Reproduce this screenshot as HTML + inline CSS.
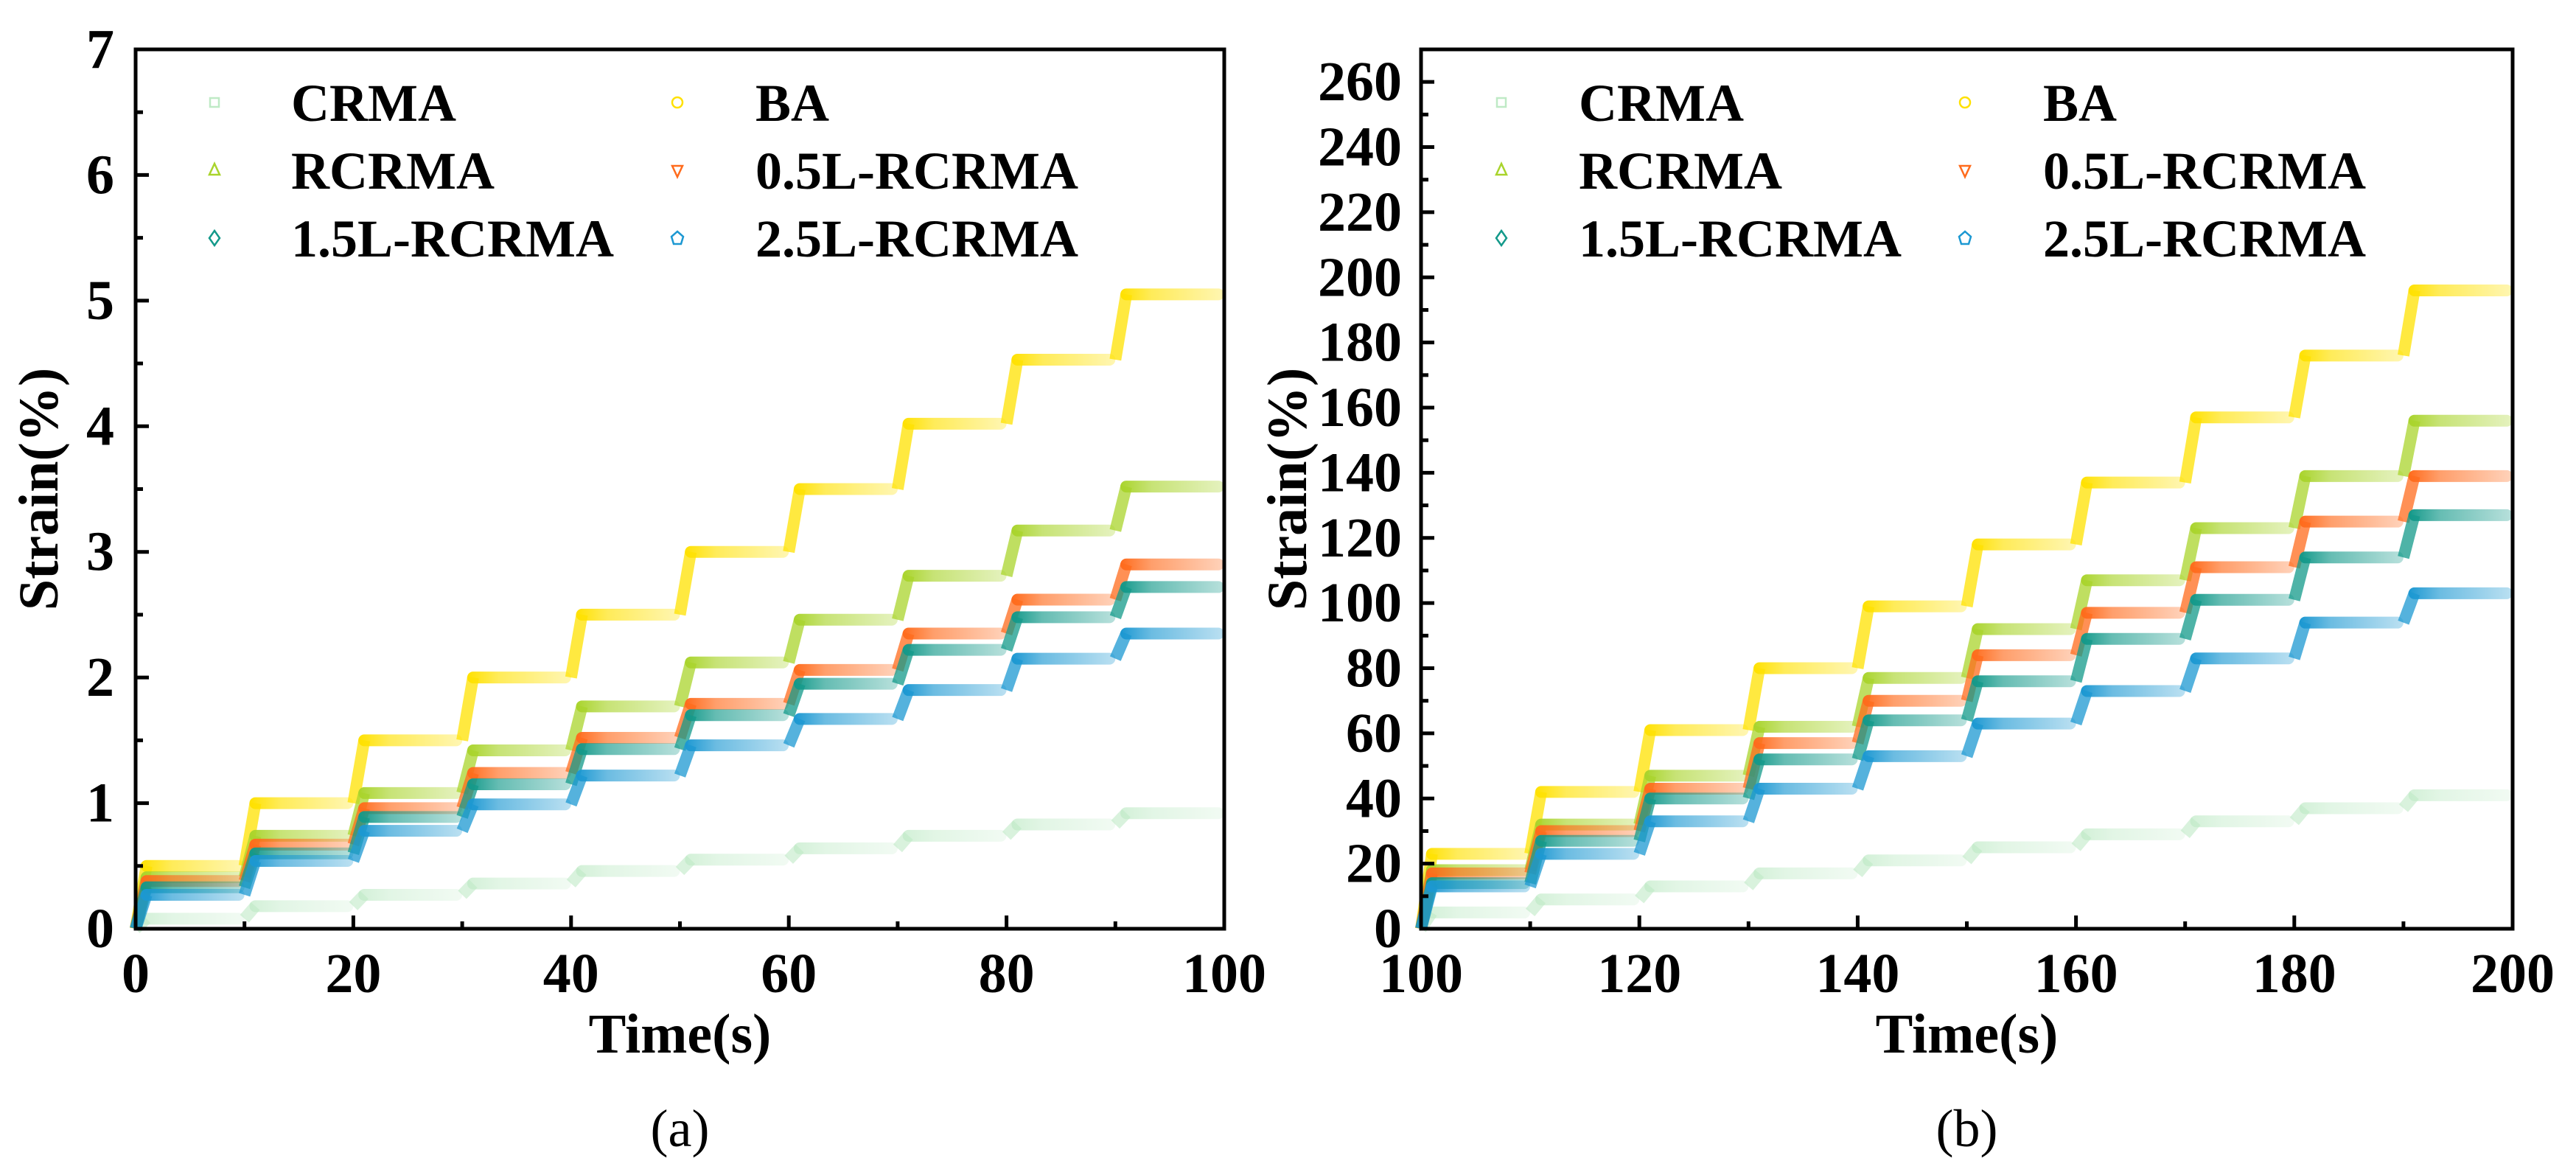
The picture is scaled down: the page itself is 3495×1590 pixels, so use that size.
<!DOCTYPE html>
<html><head><meta charset="utf-8"><style>
html,body{margin:0;padding:0;background:#fff}
svg{display:block}
text{font-family:"Liberation Serif",serif}
</style></head><body>
<svg id="chart" width="3495" height="1590" viewBox="0 0 3495 1590" xmlns="http://www.w3.org/2000/svg">
<defs></defs>
</svg>
<script>
// ---- data ----
const seriesNames = ["CRMA","BA","RCRMA","0.5L-RCRMA","1.5L-RCRMA","2.5L-RCRMA"];
const seriesColors = ["#bfeac6","#ffe100","#a9d42c","#ff6b1c","#13998a","#1c98d2"];
const stepStartsA = [0,10,20,30,40,50,60,70,80,90];
const stepStartsB = [100,110,120,130,140,150,160,170,180,190];
// panel (a) values (%)
const a_CRMA  = [0.08,0.18,0.27,0.36,0.46,0.55,0.64,0.74,0.83,0.92];
const a_BA    = [0.50,1.00,1.50,2.00,2.50,3.00,3.50,4.02,4.53,5.05];
const a_RCRMA = [0.41,0.74,1.08,1.42,1.77,2.12,2.46,2.81,3.17,3.52];
const a_L05   = [0.38,0.67,0.96,1.24,1.52,1.79,2.06,2.35,2.62,2.90];
const a_L15   = [0.33,0.60,0.89,1.15,1.43,1.70,1.95,2.22,2.48,2.72];
const a_L25   = [0.27,0.54,0.78,0.99,1.22,1.46,1.67,1.90,2.15,2.35];
// panel (b) values (%)
const b_CRMA  = [5,9,13,17,21,25,29,33,37,41];
const b_BA    = [23,42,61,80,99,118,137,157,176,196];
const b_RCRMA = [18,32,47,62,77,92,107,123,139,156];
const b_L05   = [17,30,43,57,70,84,97,111,125,139];
const b_L15   = [14,27,40,52,64,76,89,101,114,127];
const b_L25   = [13,23,33,43,53,63,73,83,94,103];
const yTicksA = [0,1,2,3,4,5,6,7];
const yTicksB = [0,20,40,60,80,100,120,140,160,180,200,220,240,260];
const xTicksA = [0,20,40,60,80,100];
const xTicksB = [100,120,140,160,180,200];

const NS="http://www.w3.org/2000/svg";
const svg=document.getElementById('chart');
const defs=svg.querySelector('defs');
function mk(tag,attrs,parent){const e=document.createElementNS(NS,tag);for(const k in attrs)e.setAttribute(k,attrs[k]);(parent||svg).appendChild(e);return e;}

seriesColors.forEach((c,i)=>{
  const g=mk('linearGradient',{id:'grad'+i,x1:'0',y1:'0',x2:'1',y2:'0'},defs);
  mk('stop',{offset:'0','stop-color':c,'stop-opacity':'1'},g);
  mk('stop',{offset:'0.3','stop-color':c,'stop-opacity':'0.65'},g);
  mk('stop',{offset:'1','stop-color':c,'stop-opacity':'0.3'},g);
});

function panel(cfg){
  const {L,R,T,B,xmin,xmax,ymin,ymax,xticks,yticks,yMinor,xMinor,data,starts,tag,legendX,label,ylabX,tickLabelR}=cfg;
  const sx=v=>L+(v-xmin)/(xmax-xmin)*(R-L);
  const sy=v=>B-(v-ymin)/(ymax-ymin)*(B-T);
  const g=mk('g',{});
  
  
  const plot=mk('g',{},g);
  
  
  data.forEach((vals,si)=>{
    const sg=mk('g',{},plot);
    
    
    const c=seriesColors[si];
    const bh=16;
    let prev=ymin;
    vals.forEach((v,k)=>{
      const t0=starts[k];
      const ramp=mk('line',{x1:sx(t0),y1:sy(prev),x2:sx(t0+1),y2:sy(v),stroke:c,'stroke-width':bh,'stroke-opacity':si===0?0.6:0.75},sg);
      
      
      const r=mk('rect',{x:sx(t0+1)-bh/2,y:sy(v)-bh/2,width:sx(t0+10)-sx(t0+1)+bh/2,height:bh,rx:bh/2,fill:'url(#grad'+si+')',opacity:si===0?0.7:1},sg);
      
      
      prev=v;
    });
  });
  const ax=mk('g',{stroke:'#000','stroke-width':5,fill:'none'},g);
  
  
  mk('rect',{x:L,y:T,width:R-L,height:B-T},ax);
  yticks.forEach(v=>{mk('line',{x1:L,y1:sy(v),x2:L+18,y2:sy(v)},ax);});
  yMinor.forEach(v=>{mk('line',{x1:L,y1:sy(v),x2:L+10,y2:sy(v)},ax);});
  xticks.forEach(v=>{mk('line',{x1:sx(v),y1:B,x2:sx(v),y2:B-18},ax);});
  xMinor.forEach(v=>{mk('line',{x1:sx(v),y1:B,x2:sx(v),y2:B-10},ax);});
  yticks.forEach(v=>{
    const t=mk('text',{x:tickLabelR,y:sy(v)+25,'text-anchor':'end','font-size':76,'font-weight':'bold'},g);
    t.textContent=v;
    
    
  });
  xticks.forEach(v=>{
    const t=mk('text',{x:sx(v),y:1346,'text-anchor':'middle','font-size':76,'font-weight':'bold'},g);
    t.textContent=v;
    
    
  });
  const xt=mk('text',{x:(L+R)/2,y:1428,'text-anchor':'middle','font-size':76,'font-weight':'bold'},g);
  xt.textContent='Time(s)';
  
  
  const yt=mk('text',{x:0,y:0,'text-anchor':'middle','font-size':76,'font-weight':'bold',transform:`translate(${ylabX},${(T+B)/2}) rotate(-90)`},g);
  yt.textContent='Strain(%)';
  
  
  const cap=mk('text',{x:(L+R)/2,y:1555,'text-anchor':'middle','font-size':72},g);
  cap.textContent=label;
  
  
  // legend
  const lg=mk('g',{},g);
  
  
  const order=[[0,0,0],[1,1,0],[2,0,1],[3,1,1],[4,0,2],[5,1,2]];
  const shapes=['sq','circ','tri','dtri','diam','pent'];
  order.forEach(([si,col,row])=>{
    const mx=legendX[col][0], tx=legendX[col][1], y=139+row*92;
    const e=mk('g',{},lg);
    
    
    const c=seriesColors[si], sh=shapes[si];
    const st={fill:'none',stroke:c,'stroke-width':2.5};
    if(sh==='sq') mk('rect',Object.assign({x:mx-6,y:y-6,width:12,height:12},st),e);
    if(sh==='circ') mk('circle',Object.assign({cx:mx,cy:y,r:7},st),e);
    if(sh==='tri') mk('polygon',Object.assign({points:`${mx},${y-9} ${mx-7},${y+6} ${mx+7},${y+6}`},st),e);
    if(sh==='dtri') mk('polygon',Object.assign({points:`${mx},${y+9} ${mx-7},${y-6} ${mx+7},${y-6}`},st),e);
    if(sh==='diam') mk('polygon',Object.assign({points:`${mx},${y-10} ${mx+7},${y} ${mx},${y+10} ${mx-7},${y}`},st),e);
    if(sh==='pent') mk('polygon',Object.assign({points:`${mx},${y-9} ${mx+8},${y-2} ${mx+5},${y+8} ${mx-5},${y+8} ${mx-8},${y-2}`},st),e);
    const t=mk('text',{x:tx,y:y+25,'font-size':72,'font-weight':'bold'},e);
    t.textContent=seriesNames[si];
  });
}

panel({L:184,R:1661,T:67,B:1260,xmin:0,xmax:100,ymin:0,ymax:7,
  xticks:xTicksA,yticks:yTicksA,yMinor:[0.5,1.5,2.5,3.5,4.5,5.5,6.5],xMinor:[10,30,50,70,90],
  data:[a_CRMA,a_BA,a_RCRMA,a_L05,a_L15,a_L25],starts:stepStartsA,tag:'a',
  legendX:[[291,395],[919,1025]],label:'(a)',ylabX:78,tickLabelR:155});
panel({L:1928,R:3409,T:67,B:1260,xmin:100,xmax:200,ymin:0,ymax:270,
  xticks:xTicksB,yticks:yTicksB,yMinor:[10,30,50,70,90,110,130,150,170,190,210,230,250],xMinor:[110,130,150,170,190],
  data:[b_CRMA,b_BA,b_RCRMA,b_L05,b_L15,b_L25],starts:stepStartsB,tag:'b',
  legendX:[[2037,2142],[2666,2772]],label:'(b)',ylabX:1772,tickLabelR:1902});
</script>
</body></html>
